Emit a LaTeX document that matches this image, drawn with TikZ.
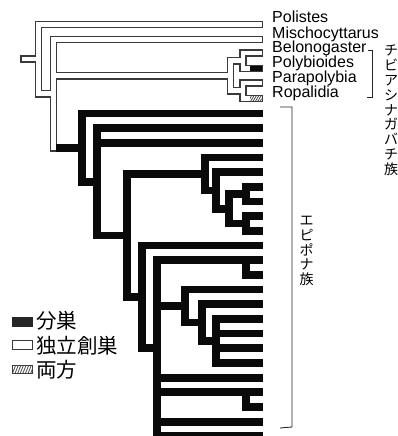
\documentclass[tikz,border=0pt]{standalone}
\usepackage{fontspec}
\setmainfont{Liberation Sans}
\newfontfamily\cjk{Noto Sans CJK JP}
\begin{document}
\begin{tikzpicture}[x=1pt,y=-1pt,
  wout/.style={line width=7.8pt, draw=outl, line cap=rect, line join=miter},
  win/.style={line width=4.6pt, draw=white, line cap=rect, line join=miter},
  btube/.style={line width=7.8pt, draw=tubeblack, line cap=rect, line join=miter},
  taxon/.style={anchor=base west, inner sep=0pt, font=\fontsize{16}{16}\selectfont},
  legtext/.style={anchor=west, inner sep=0pt, font=\cjk\fontsize{20.5}{20.5}\selectfont},
  vtext/.style={anchor=north, inner sep=0pt, align=center, font=\cjk\fontsize{14}{14.8}\selectfont},
  brk/.style={draw=black!85, line width=0.9pt}
]
\definecolor{outl}{HTML}{3A3A3A}
\definecolor{tubeblack}{HTML}{0A0A0A}
\def\tip{259.4}
\useasboundingbox (0,0) rectangle (398,436);
% ---- white tube paths (independent founding)
\def\WA{(23.9,58.9) -- (38.5,58.9)}
\def\WB{(\tip,24.5) -- (38.5,24.5) -- (38.5,93.6) -- (53.5,93.6)}
\def\WC{(\tip,39.5) -- (53.5,39.5) -- (53.5,147.65)}
\def\WD{(53.5,75.75) -- (230.5,75.75)}
\def\WE{(243,60.75) -- (230.5,60.75) -- (230.5,90.75) -- (243,90.75)}
\def\WF{(\tip,53) -- (243,53) -- (243,68.5) -- (\tip,68.5)}
\def\WG{(\tip,83) -- (243,83) -- (243,98.5) -- (\tip,98.5)}
\foreach \p in {\WA,\WB,\WC,\WD,\WE,\WF,\WG} {\draw[wout] \p;}
\foreach \p in {\WA,\WB,\WC,\WD,\WE,\WF,\WG} {\draw[win] \p;}
% Polybioides: swarm part
\draw[line width=4.6pt, draw=tubeblack] (250,68.5) -- (261.7,68.5);
% Ropalidia: both
\begin{scope}
  \clip (250,96.2) rectangle (261.7,100.8);
  \foreach \h in {246,248.4,...,266} {\draw[black!70, line width=0.8pt] (\h,101) -- (\h+3,96);}
\end{scope}
% ---- Epiponini (black tubes, swarm founding)
\draw[btube] (59.9,147.65) -- (82,147.65);
\draw[btube] (\tip,113.5) -- (82,113.5) -- (82,181.8) -- (97,181.8);
\draw[btube] (\tip,128.2) -- (97,128.2) -- (97,235.4) -- (127,235.4);
\draw[btube] (97,142.8) -- (\tip,142.8);
\draw[btube] (205,174) -- (127,174) -- (127,296.85) -- (142,296.85);
\draw[btube] (\tip,157.5) -- (205,157.5) -- (205,190.5) -- (216,190.5);
\draw[btube] (\tip,172.2) -- (216,172.2) -- (216,208.85) -- (229,208.85);
\draw[btube] (246,194.15) -- (229,194.15) -- (229,223.55) -- (246,223.55);
\draw[btube] (\tip,186.8) -- (246,186.8) -- (246,201.5) -- (\tip,201.5);
\draw[btube] (\tip,216.2) -- (246,216.2) -- (246,230.9) -- (\tip,230.9);
\draw[btube] (\tip,245.5) -- (142,245.5) -- (142,348.2) -- (157,348.2);
\draw[btube] (\tip,260.2) -- (157,260.2) -- (157,436.2) -- (\tip,436.2);
\draw[btube] (157,306) -- (185,306);
\draw[btube] (157,377.6) -- (\tip,377.6);
\draw[btube] (157,392.2) -- (\tip,392.2);
\draw[btube] (157,421.6) -- (\tip,421.6);
\draw[btube] (246,260.2) -- (246,274.9) -- (\tip,274.9);
\draw[btube] (246,392.2) -- (246,406.9) -- (\tip,406.9);
\draw[btube] (\tip,289.5) -- (185,289.5) -- (185,322.55) -- (202,322.55);
\draw[btube] (\tip,304.2) -- (202,304.2) -- (202,340.9) -- (216,340.9);
\draw[btube] (\tip,318.9) -- (216,318.9) -- (216,362.9) -- (\tip,362.9);
\draw[btube] (216,333.5) -- (\tip,333.5);
\draw[btube] (216,348.2) -- (\tip,348.2);
% ---- taxon labels
\node[taxon] (pol) at (272,23) {Polistes};
\node[taxon] (mis) at (272,38) {Mischocyttarus};
\node[taxon] (bel) at (272,52.5) {Belonogaster};
\node[taxon] (pob) at (272,67.5) {Polybioides};
\node[taxon] (par) at (272,82.5) {Parapolybia};
\node[taxon] (rop) at (272,97.5) {Ropalidia};
% ---- brackets
\coordinate (rb1) at ([xshift=1.5pt]bel.east |- 0,50);
\coordinate (rb2) at (372,50);
\coordinate (rb3) at (372,97);
\coordinate (rb4) at (367,97);
\draw[brk] (rb1) -- (rb2) -- (rb3) -- (rb4);
\coordinate (eb1) at (280,107);
\coordinate (eb2) at (292,107);
\coordinate (eb3) at (292,427);
\coordinate (eb4) at (280,428);
\draw[brk] (eb1) -- (eb2) -- (eb3) -- (eb4);
\node[vtext] (ropt) at (391,45) {チ\\ビ\\ア\\シ\\ナ\\ガ\\バ\\チ\\族};
\node[vtext] (epit) at (306.5,216) {エ\\ピ\\ポ\\ナ\\族};
% ---- legend
\fill[black!85] (12,317.3) rectangle (33.3,326.7);
\draw[outl, line width=1pt, fill=white] (12.5,340.5) rectangle (32.8,349);
\draw[outl, line width=1pt, fill=white] (12.5,365.5) rectangle (32.8,373);
\begin{scope}
  \clip (12.5,365.5) rectangle (32.8,373);
  \foreach \h in {10,12.6,...,36} {\draw[black!70, line width=0.8pt] (\h,373) -- (\h+3,365.5);}
\end{scope}
\node[legtext] (l1) at (36,321) {分巣};
\node[legtext] (l2) at (36,346) {独立創巣};
\node[legtext] (l3) at (36,370) {両方};
\end{tikzpicture}
\end{document}
